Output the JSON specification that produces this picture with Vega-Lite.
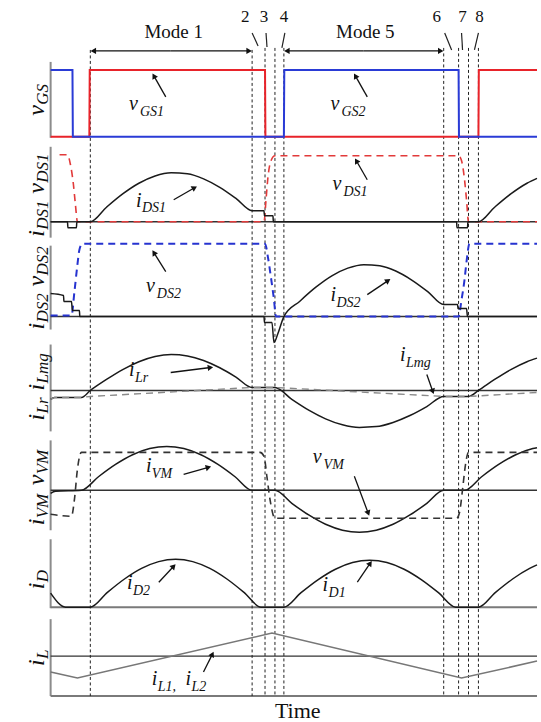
{
  "$schema": "https://vega.github.io/schema/vega-lite/v6.json",
  "width": 541,
  "height": 722,
  "autosize": {"type": "fit", "contains": "padding"},
  "padding": 0,
  "background": "white",
  "config": {"view": {"stroke": null}},
  "datasets": {
    "axes": [{"t": 51, "y": 62, "y2": 138}, {"t": 51, "y": 147, "y2": 238}, {"t": 51, "y": 246, "y2": 330}, {"t": 51, "y": 345, "y2": 432}, {"t": 51, "y": 441, "y2": 531}, {"t": 51, "y": 540, "y2": 609}, {"t": 51, "y": 620, "y2": 697}],
    "frameH": [{"t": 51, "t2": 541, "y": 608}, {"t": 51, "t2": 541, "y": 697}],
    "baselines": [{"t": 51, "t2": 541, "y": 222}, {"t": 51, "t2": 541, "y": 317}, {"t": 51, "t2": 541, "y": 391}, {"t": 51, "t2": 541, "y": 491}, {"t": 51, "t2": 541, "y": 657}],
    "vlines": [{"t": 91, "y": 50, "y2": 697}, {"t": 254, "y": 50, "y2": 697}, {"t": 267, "y": 48, "y2": 697}, {"t": 277, "y": 48, "y2": 697}, {"t": 286, "y": 48, "y2": 697}, {"t": 447, "y": 48, "y2": 697}, {"t": 462, "y": 48, "y2": 697}, {"t": 472, "y": 48, "y2": 697}, {"t": 482, "y": 48, "y2": 697}],
    "wave": [
      {"id": "vGS1", "t": 51, "y": 137}, {"id": "vGS1", "t": 90, "y": 137}, {"id": "vGS1", "t": 90.4, "y": 70}, {"id": "vGS1", "t": 267, "y": 70}, {"id": "vGS1", "t": 267.4, "y": 137}, {"id": "vGS1", "t": 482, "y": 137}, {"id": "vGS1", "t": 482.4, "y": 70}, {"id": "vGS1", "t": 541, "y": 70},
      {"id": "vGS2", "t": 51, "y": 70}, {"id": "vGS2", "t": 73, "y": 70}, {"id": "vGS2", "t": 73.4, "y": 137}, {"id": "vGS2", "t": 286, "y": 137}, {"id": "vGS2", "t": 286.4, "y": 70}, {"id": "vGS2", "t": 462, "y": 70}, {"id": "vGS2", "t": 462.4, "y": 137}, {"id": "vGS2", "t": 541, "y": 137},
      {"id": "vDS1", "t": 60, "y": 155}, {"id": "vDS1", "t": 68, "y": 155}, {"id": "vDS1", "t": 71, "y": 165}, {"id": "vDS1", "t": 74, "y": 185}, {"id": "vDS1", "t": 76, "y": 205}, {"id": "vDS1", "t": 78, "y": 222}, {"id": "vDS1", "t": 266, "y": 222}, {"id": "vDS1", "t": 268, "y": 200}, {"id": "vDS1", "t": 270, "y": 177}, {"id": "vDS1", "t": 273, "y": 161}, {"id": "vDS1", "t": 277, "y": 156}, {"id": "vDS1", "t": 462, "y": 156}, {"id": "vDS1", "t": 465, "y": 161}, {"id": "vDS1", "t": 468, "y": 180}, {"id": "vDS1", "t": 470, "y": 200}, {"id": "vDS1", "t": 472, "y": 222}, {"id": "vDS1", "t": 541, "y": 222},
      {"id": "vDS2", "t": 51, "y": 316}, {"id": "vDS2", "t": 72, "y": 316}, {"id": "vDS2", "t": 75, "y": 292}, {"id": "vDS2", "t": 78, "y": 265}, {"id": "vDS2", "t": 80, "y": 250}, {"id": "vDS2", "t": 83, "y": 244}, {"id": "vDS2", "t": 267, "y": 244}, {"id": "vDS2", "t": 270, "y": 258}, {"id": "vDS2", "t": 273, "y": 278}, {"id": "vDS2", "t": 276, "y": 300}, {"id": "vDS2", "t": 278, "y": 317}, {"id": "vDS2", "t": 462, "y": 317}, {"id": "vDS2", "t": 465, "y": 300}, {"id": "vDS2", "t": 468, "y": 280}, {"id": "vDS2", "t": 470, "y": 262}, {"id": "vDS2", "t": 473, "y": 244}, {"id": "vDS2", "t": 541, "y": 244},
      {"id": "iDS1", "t": 51, "y": 222}, {"id": "iDS1", "t": 68, "y": 222}, {"id": "iDS1", "t": 68.4, "y": 228}, {"id": "iDS1", "t": 77, "y": 228}, {"id": "iDS1", "t": 77.4, "y": 222}, {"id": "iDS1", "t": 91, "y": 222}, {"id": "iDS1", "t": 107.3, "y": 207.5}, {"id": "iDS1", "t": 123.6, "y": 194.2}, {"id": "iDS1", "t": 139.9, "y": 183.5}, {"id": "iDS1", "t": 156.2, "y": 176.2}, {"id": "iDS1", "t": 172.5, "y": 173}, {"id": "iDS1", "t": 188.8, "y": 174}, {"id": "iDS1", "t": 205.1, "y": 179.1}, {"id": "iDS1", "t": 221.4, "y": 187.6}, {"id": "iDS1", "t": 237.7, "y": 198.7}, {"id": "iDS1", "t": 254, "y": 211}, {"id": "iDS1", "t": 266, "y": 211}, {"id": "iDS1", "t": 266.4, "y": 216}, {"id": "iDS1", "t": 275, "y": 216}, {"id": "iDS1", "t": 275.4, "y": 222}, {"id": "iDS1", "t": 460, "y": 222}, {"id": "iDS1", "t": 460.4, "y": 228}, {"id": "iDS1", "t": 471, "y": 228}, {"id": "iDS1", "t": 471.4, "y": 222}, {"id": "iDS1", "t": 482, "y": 222}, {"id": "iDS1", "t": 498.3, "y": 207.5}, {"id": "iDS1", "t": 514.6, "y": 194.2}, {"id": "iDS1", "t": 530.9, "y": 183.5}, {"id": "iDS1", "t": 541, "y": 178.6},
      {"id": "iDS2", "t": 51, "y": 294}, {"id": "iDS2", "t": 64, "y": 296}, {"id": "iDS2", "t": 64.4, "y": 302}, {"id": "iDS2", "t": 72, "y": 302}, {"id": "iDS2", "t": 73, "y": 311}, {"id": "iDS2", "t": 80, "y": 311}, {"id": "iDS2", "t": 80.4, "y": 317}, {"id": "iDS2", "t": 266, "y": 317}, {"id": "iDS2", "t": 266.4, "y": 323}, {"id": "iDS2", "t": 274, "y": 323}, {"id": "iDS2", "t": 276, "y": 343}, {"id": "iDS2", "t": 280, "y": 334}, {"id": "iDS2", "t": 286, "y": 317}, {"id": "iDS2", "t": 302.1, "y": 301.6}, {"id": "iDS2", "t": 318.2, "y": 287.6}, {"id": "iDS2", "t": 334.3, "y": 276.2}, {"id": "iDS2", "t": 350.4, "y": 268.5}, {"id": "iDS2", "t": 366.5, "y": 265}, {"id": "iDS2", "t": 382.6, "y": 266.1}, {"id": "iDS2", "t": 398.7, "y": 271.4}, {"id": "iDS2", "t": 414.8, "y": 280.4}, {"id": "iDS2", "t": 430.9, "y": 292}, {"id": "iDS2", "t": 447, "y": 305}, {"id": "iDS2", "t": 461, "y": 305}, {"id": "iDS2", "t": 461.4, "y": 309}, {"id": "iDS2", "t": 470, "y": 309}, {"id": "iDS2", "t": 471, "y": 317}, {"id": "iDS2", "t": 541, "y": 317},
      {"id": "iLr", "t": 51, "y": 400}, {"id": "iLr", "t": 55, "y": 398}, {"id": "iLr", "t": 82, "y": 398}, {"id": "iLr", "t": 91, "y": 391}, {"id": "iLr", "t": 107.3, "y": 380}, {"id": "iLr", "t": 123.6, "y": 370.1}, {"id": "iLr", "t": 139.9, "y": 362.2}, {"id": "iLr", "t": 156.2, "y": 357}, {"id": "iLr", "t": 172.5, "y": 355}, {"id": "iLr", "t": 188.8, "y": 356.4}, {"id": "iLr", "t": 205.1, "y": 361}, {"id": "iLr", "t": 221.4, "y": 368.3}, {"id": "iLr", "t": 237.7, "y": 377.6}, {"id": "iLr", "t": 254, "y": 388}, {"id": "iLr", "t": 277, "y": 388}, {"id": "iLr", "t": 294, "y": 399.9}, {"id": "iLr", "t": 311, "y": 410.7}, {"id": "iLr", "t": 328, "y": 419.4}, {"id": "iLr", "t": 345, "y": 425.4}, {"id": "iLr", "t": 362, "y": 428}, {"id": "iLr", "t": 379, "y": 427.2}, {"id": "iLr", "t": 396, "y": 423}, {"id": "iLr", "t": 413, "y": 416.1}, {"id": "iLr", "t": 430, "y": 407.1}, {"id": "iLr", "t": 447, "y": 397}, {"id": "iLr", "t": 472, "y": 397}, {"id": "iLr", "t": 482, "y": 391}, {"id": "iLr", "t": 498.3, "y": 380}, {"id": "iLr", "t": 514.6, "y": 370.1}, {"id": "iLr", "t": 530.9, "y": 362.2}, {"id": "iLr", "t": 541, "y": 358.6},
      {"id": "iLmg", "t": 51, "y": 400}, {"id": "iLmg", "t": 55, "y": 398}, {"id": "iLmg", "t": 82, "y": 398}, {"id": "iLmg", "t": 91, "y": 397}, {"id": "iLmg", "t": 254, "y": 388}, {"id": "iLmg", "t": 277, "y": 388}, {"id": "iLmg", "t": 447, "y": 397}, {"id": "iLmg", "t": 472, "y": 397}, {"id": "iLmg", "t": 541, "y": 393},
      {"id": "iVM", "t": 51, "y": 494}, {"id": "iVM", "t": 56, "y": 492}, {"id": "iVM", "t": 82, "y": 491}, {"id": "iVM", "t": 99.2, "y": 477.4}, {"id": "iVM", "t": 116.4, "y": 465.1}, {"id": "iVM", "t": 133.6, "y": 455.4}, {"id": "iVM", "t": 150.8, "y": 449.2}, {"id": "iVM", "t": 168, "y": 447}, {"id": "iVM", "t": 185.2, "y": 449.2}, {"id": "iVM", "t": 202.4, "y": 455.4}, {"id": "iVM", "t": 219.6, "y": 465.1}, {"id": "iVM", "t": 236.8, "y": 477.4}, {"id": "iVM", "t": 254, "y": 491}, {"id": "iVM", "t": 277, "y": 491}, {"id": "iVM", "t": 294, "y": 504}, {"id": "iVM", "t": 311, "y": 515.7}, {"id": "iVM", "t": 328, "y": 525}, {"id": "iVM", "t": 345, "y": 530.9}, {"id": "iVM", "t": 362, "y": 533}, {"id": "iVM", "t": 379, "y": 530.9}, {"id": "iVM", "t": 396, "y": 525}, {"id": "iVM", "t": 413, "y": 515.7}, {"id": "iVM", "t": 430, "y": 504}, {"id": "iVM", "t": 447, "y": 491}, {"id": "iVM", "t": 468, "y": 491}, {"id": "iVM", "t": 485.2, "y": 477.4}, {"id": "iVM", "t": 502.4, "y": 465.1}, {"id": "iVM", "t": 519.6, "y": 455.4}, {"id": "iVM", "t": 536.8, "y": 449.2}, {"id": "iVM", "t": 541, "y": 448.3},
      {"id": "vVM", "t": 51, "y": 515}, {"id": "vVM", "t": 72, "y": 517}, {"id": "vVM", "t": 75, "y": 500}, {"id": "vVM", "t": 78, "y": 470}, {"id": "vVM", "t": 82, "y": 453}, {"id": "vVM", "t": 262, "y": 453}, {"id": "vVM", "t": 266, "y": 457}, {"id": "vVM", "t": 269, "y": 478}, {"id": "vVM", "t": 272, "y": 500}, {"id": "vVM", "t": 277, "y": 519}, {"id": "vVM", "t": 460, "y": 519}, {"id": "vVM", "t": 463, "y": 513}, {"id": "vVM", "t": 466, "y": 490}, {"id": "vVM", "t": 469, "y": 465}, {"id": "vVM", "t": 472, "y": 453}, {"id": "vVM", "t": 541, "y": 453},
      {"id": "iD", "t": 51, "y": 594}, {"id": "iD", "t": 66, "y": 608}, {"id": "iD", "t": 91, "y": 608}, {"id": "iD", "t": 108.2, "y": 593.2}, {"id": "iD", "t": 125.4, "y": 579.8}, {"id": "iD", "t": 142.6, "y": 569.2}, {"id": "iD", "t": 159.8, "y": 562.4}, {"id": "iD", "t": 177, "y": 560}, {"id": "iD", "t": 194.2, "y": 562.4}, {"id": "iD", "t": 211.4, "y": 569.2}, {"id": "iD", "t": 228.6, "y": 579.8}, {"id": "iD", "t": 245.8, "y": 593.2}, {"id": "iD", "t": 263, "y": 608}, {"id": "iD", "t": 286, "y": 608}, {"id": "iD", "t": 303.3, "y": 593.5}, {"id": "iD", "t": 320.6, "y": 580.4}, {"id": "iD", "t": 337.9, "y": 570}, {"id": "iD", "t": 355.2, "y": 563.3}, {"id": "iD", "t": 372.5, "y": 561}, {"id": "iD", "t": 389.8, "y": 563.3}, {"id": "iD", "t": 407.1, "y": 570}, {"id": "iD", "t": 424.4, "y": 580.4}, {"id": "iD", "t": 441.7, "y": 593.5}, {"id": "iD", "t": 459, "y": 608}, {"id": "iD", "t": 482, "y": 608}, {"id": "iD", "t": 499.2, "y": 593.2}, {"id": "iD", "t": 516.4, "y": 579.8}, {"id": "iD", "t": 533.6, "y": 569.2}, {"id": "iD", "t": 541, "y": 565.7},
      {"id": "iL", "t": 51, "y": 673}, {"id": "iL", "t": 78, "y": 679}, {"id": "iL", "t": 274, "y": 634}, {"id": "iL", "t": 465, "y": 679}, {"id": "iL", "t": 541, "y": 662}
    ],
    "ticks": [{"t": 254, "y": 33, "t2": 260, "y2": 46}, {"t": 268, "y": 33, "t2": 269, "y2": 47}, {"t": 287, "y": 33, "t2": 284, "y2": 48}, {"t": 448, "y": 33, "t2": 455, "y2": 50}, {"t": 465, "y": 33, "t2": 466, "y2": 50}, {"t": 482, "y": 33, "t2": 478, "y2": 50}],
    "arrows": [
      {"t": 172, "y": 51, "t2": 94, "y2": 51}, {"t": 172, "y": 51, "t2": 251, "y2": 51},
      {"t": 366, "y": 51, "t2": 289, "y2": 51}, {"t": 366, "y": 51, "t2": 444, "y2": 51},
      {"t": 167, "y": 97, "t2": 155, "y2": 76},
      {"t": 370, "y": 97, "t2": 358, "y2": 76},
      {"t": 175, "y": 200, "t2": 196, "y2": 188},
      {"t": 370, "y": 180, "t2": 359, "y2": 161},
      {"t": 167, "y": 272, "t2": 155, "y2": 253},
      {"t": 370, "y": 295, "t2": 391, "y2": 281},
      {"t": 172, "y": 373, "t2": 212, "y2": 368},
      {"t": 430, "y": 375, "t2": 436, "y2": 392},
      {"t": 185, "y": 475, "t2": 210, "y2": 468},
      {"t": 357, "y": 477, "t2": 371, "y2": 514},
      {"t": 160, "y": 583, "t2": 175, "y2": 567},
      {"t": 360, "y": 583, "t2": 373, "y2": 564},
      {"t": 205, "y": 673, "t2": 214, "y2": 655}
    ],
    "labels": [
      {"kind": "m", "txt": "v", "t": 130, "y": 110}, {"kind": "s", "txt": "GS1", "t": 141, "y": 116},
      {"kind": "m", "txt": "v", "t": 333, "y": 110}, {"kind": "s", "txt": "GS2", "t": 344, "y": 116},
      {"kind": "m", "txt": "i", "t": 137, "y": 207}, {"kind": "s", "txt": "DS1", "t": 143, "y": 212},
      {"kind": "m", "txt": "v", "t": 335, "y": 190}, {"kind": "s", "txt": "DS1", "t": 346, "y": 196},
      {"kind": "m", "txt": "v", "t": 147, "y": 292}, {"kind": "s", "txt": "DS2", "t": 158, "y": 298},
      {"kind": "m", "txt": "i", "t": 333, "y": 301}, {"kind": "s", "txt": "DS2", "t": 339, "y": 307},
      {"kind": "m", "txt": "i", "t": 130, "y": 377}, {"kind": "s", "txt": "Lr", "t": 136, "y": 383},
      {"kind": "m", "txt": "i", "t": 403, "y": 362}, {"kind": "s", "txt": "Lmg", "t": 409, "y": 368},
      {"kind": "m", "txt": "i", "t": 147, "y": 473}, {"kind": "s", "txt": "VM", "t": 153, "y": 479},
      {"kind": "m", "txt": "v", "t": 315, "y": 464}, {"kind": "s", "txt": "VM", "t": 326, "y": 470},
      {"kind": "m", "txt": "i", "t": 128, "y": 590}, {"kind": "s", "txt": "D2", "t": 134, "y": 596},
      {"kind": "m", "txt": "i", "t": 325, "y": 592}, {"kind": "s", "txt": "D1", "t": 331, "y": 598},
      {"kind": "m", "txt": "i", "t": 153, "y": 686}, {"kind": "s", "txt": "L1,", "t": 159, "y": 692},
      {"kind": "m", "txt": "i", "t": 187, "y": 686}, {"kind": "s", "txt": "L2", "t": 193, "y": 692},
      {"kind": "rm", "txt": "v", "t": 44, "y": 116}, {"kind": "rs", "txt": "GS", "t": 48, "y": 105},
      {"kind": "rm", "txt": "i", "t": 44, "y": 237}, {"kind": "rs", "txt": "DS1", "t": 48, "y": 230},
      {"kind": "rm", "txt": "v", "t": 44, "y": 194}, {"kind": "rs", "txt": "DS1", "t": 48, "y": 183},
      {"kind": "rm", "txt": "i", "t": 44, "y": 330}, {"kind": "rs", "txt": "DS2", "t": 48, "y": 323},
      {"kind": "rm", "txt": "v", "t": 44, "y": 287}, {"kind": "rs", "txt": "DS2", "t": 48, "y": 276},
      {"kind": "rm", "txt": "i", "t": 44, "y": 421}, {"kind": "rs", "txt": "Lr", "t": 48, "y": 414},
      {"kind": "rm", "txt": "i", "t": 44, "y": 391}, {"kind": "rs", "txt": "Lmg", "t": 48, "y": 384},
      {"kind": "rm", "txt": "i", "t": 44, "y": 526}, {"kind": "rs", "txt": "VM", "t": 48, "y": 519},
      {"kind": "rm", "txt": "v", "t": 44, "y": 486}, {"kind": "rs", "txt": "VM", "t": 48, "y": 475},
      {"kind": "rm", "txt": "i", "t": 44, "y": 590}, {"kind": "rs", "txt": "D", "t": 48, "y": 583},
      {"kind": "rm", "txt": "i", "t": 44, "y": 667}, {"kind": "rs", "txt": "L", "t": 48, "y": 660},
      {"kind": "n", "txt": "2", "t": 247, "y": 22}, {"kind": "n", "txt": "3", "t": 266, "y": 22}, {"kind": "n", "txt": "4", "t": 286, "y": 22},
      {"kind": "n", "txt": "6", "t": 440, "y": 22}, {"kind": "n", "txt": "7", "t": 466, "y": 22}, {"kind": "n", "txt": "8", "t": 483, "y": 22},
      {"kind": "mode", "txt": "Mode 1", "t": 175, "y": 38}, {"kind": "mode", "txt": "Mode 5", "t": 368, "y": 38},
      {"kind": "time", "txt": "Time", "t": 300, "y": 719}
    ]
  },
  "encoding": {
    "x": {"field": "t", "type": "quantitative", "scale": {"domain": [0, 541], "nice": false, "zero": false}, "axis": null},
    "y": {"field": "y", "type": "quantitative", "scale": {"domain": [0, 722], "nice": false, "zero": false, "reverse": true}, "axis": null}
  },
  "layer": [
    {"data": {"name": "axes"}, "mark": {"type": "rule", "color": "#8c8c8c", "strokeWidth": 2}, "encoding": {"y2": {"field": "y2"}}},
    {"data": {"name": "frameH"}, "mark": {"type": "rule", "color": "#7a7a7a", "strokeWidth": 2}, "encoding": {"x2": {"field": "t2"}}},
    {"data": {"name": "baselines"}, "mark": {"type": "rule", "color": "#333333", "strokeWidth": 1.4}, "encoding": {"x2": {"field": "t2"}}},
    {"data": {"name": "vlines"}, "mark": {"type": "rule", "color": "#222222", "strokeWidth": 1, "strokeDash": [3, 2.5]}, "encoding": {"y2": {"field": "y2"}}},
    {"data": {"name": "wave"}, "transform": [{"filter": "datum.id == 'vGS1'"}], "mark": {"type": "line", "color": "#e8232a", "strokeWidth": 2}, "encoding": {"detail": {"field": "id"}}},
    {"data": {"name": "wave"}, "transform": [{"filter": "datum.id == 'vGS2'"}], "mark": {"type": "line", "color": "#2a3bd6", "strokeWidth": 2}, "encoding": {"detail": {"field": "id"}}},
    {"data": {"name": "wave"}, "transform": [{"filter": "datum.id == 'vDS1'"}], "mark": {"type": "line", "color": "#e23a3a", "strokeWidth": 1.6, "strokeDash": [7, 5], "interpolate": "monotone"}, "encoding": {"detail": {"field": "id"}}},
    {"data": {"name": "wave"}, "transform": [{"filter": "datum.id == 'vDS2'"}], "mark": {"type": "line", "color": "#2633d0", "strokeWidth": 2, "strokeDash": [7, 5], "interpolate": "monotone"}, "encoding": {"detail": {"field": "id"}}},
    {"data": {"name": "wave"}, "transform": [{"filter": {"field": "id", "oneOf": ["iDS1", "iDS2", "iLr", "iVM", "iD"]}}], "mark": {"type": "line", "color": "#1a1a1a", "strokeWidth": 1.5, "interpolate": "monotone"}, "encoding": {"detail": {"field": "id"}}},
    {"data": {"name": "wave"}, "transform": [{"filter": "datum.id == 'vVM'"}], "mark": {"type": "line", "color": "#333333", "strokeWidth": 1.6, "strokeDash": [7, 5], "interpolate": "monotone"}, "encoding": {"detail": {"field": "id"}}},
    {"data": {"name": "wave"}, "transform": [{"filter": "datum.id == 'iLmg'"}], "mark": {"type": "line", "color": "#8a8a8a", "strokeWidth": 1.4, "strokeDash": [7, 5]}, "encoding": {"detail": {"field": "id"}}},
    {"data": {"name": "wave"}, "transform": [{"filter": "datum.id == 'iL'"}], "mark": {"type": "line", "color": "#777777", "strokeWidth": 1.5}, "encoding": {"detail": {"field": "id"}}},
    {"data": {"name": "ticks"}, "mark": {"type": "rule", "color": "#222222", "strokeWidth": 1.2}, "encoding": {"x2": {"field": "t2"}, "y2": {"field": "y2"}}},
    {"data": {"name": "arrows"}, "mark": {"type": "rule", "color": "#111111", "strokeWidth": 1.3}, "encoding": {"x2": {"field": "t2"}, "y2": {"field": "y2"}}},
    {"data": {"name": "arrows"}, "transform": [{"calculate": "atan2(datum.t2 - datum.t, datum.y - datum.y2) * 180 / PI", "as": "ang"}], "mark": {"type": "point", "shape": "triangle-up", "filled": true, "color": "#111111", "size": 40, "opacity": 1}, "encoding": {"x": {"field": "t2", "type": "quantitative"}, "y": {"field": "y2", "type": "quantitative"}, "angle": {"field": "ang", "type": "quantitative", "scale": null}}},
    {"data": {"name": "labels"}, "transform": [{"filter": "datum.kind == 'm'"}], "mark": {"type": "text", "font": "Liberation Serif", "fontStyle": "italic", "fontSize": 20, "align": "left", "baseline": "alphabetic", "color": "#111111"}, "encoding": {"text": {"field": "txt"}}},
    {"data": {"name": "labels"}, "transform": [{"filter": "datum.kind == 's'"}], "mark": {"type": "text", "font": "Liberation Serif", "fontStyle": "italic", "fontSize": 14, "align": "left", "baseline": "alphabetic", "color": "#111111"}, "encoding": {"text": {"field": "txt"}}},
    {"data": {"name": "labels"}, "transform": [{"filter": "datum.kind == 'rm'"}], "mark": {"type": "text", "font": "Liberation Serif", "fontStyle": "italic", "fontSize": 24, "align": "left", "baseline": "alphabetic", "angle": 270, "color": "#111111"}, "encoding": {"text": {"field": "txt"}}},
    {"data": {"name": "labels"}, "transform": [{"filter": "datum.kind == 'rs'"}], "mark": {"type": "text", "font": "Liberation Serif", "fontStyle": "italic", "fontSize": 17, "align": "left", "baseline": "alphabetic", "angle": 270, "color": "#111111"}, "encoding": {"text": {"field": "txt"}}},
    {"data": {"name": "labels"}, "transform": [{"filter": "datum.kind == 'n'"}], "mark": {"type": "text", "font": "Liberation Serif", "fontSize": 17, "align": "center", "baseline": "alphabetic", "color": "#111111"}, "encoding": {"text": {"field": "txt"}}},
    {"data": {"name": "labels"}, "transform": [{"filter": "datum.kind == 'mode'"}], "mark": {"type": "text", "font": "Liberation Serif", "fontSize": 19, "align": "center", "baseline": "alphabetic", "color": "#111111"}, "encoding": {"text": {"field": "txt"}}},
    {"data": {"name": "labels"}, "transform": [{"filter": "datum.kind == 'time'"}], "mark": {"type": "text", "font": "Liberation Serif", "fontSize": 22, "align": "center", "baseline": "alphabetic", "color": "#111111"}, "encoding": {"text": {"field": "txt"}}}
  ]
}
